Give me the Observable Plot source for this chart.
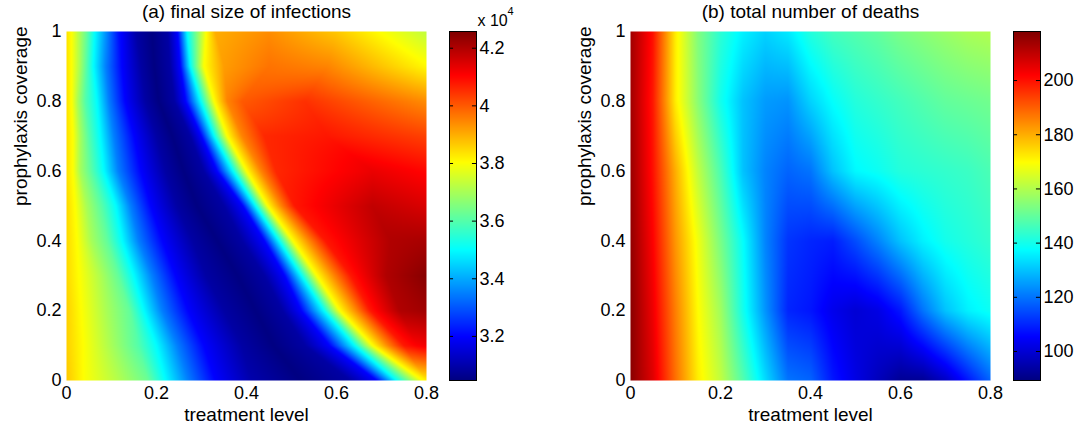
<!DOCTYPE html>
<html>
<head>
<meta charset="utf-8">
<script src="https://cdn.jsdelivr.net/npm/d3@7"></script>
<script src="https://cdn.jsdelivr.net/npm/@observablehq/plot@0.6"></script>
<style>
  body { margin: 0; background: #fff; }
  #chart { position: relative; width: 1085px; height: 428px; overflow: hidden; background: #fff; }
  #chart > svg { position: absolute; top: 0; }
</style>
</head>
<body>
<div id="chart"></div>
<script>
// ---- data ----
// (a) final size of infections (x 10^4). For each prophylaxis-coverage row,
// [treatment level, value] readings at the same sequence of colour features
// (left edge, 3.8, 3.7, 3.6, 3.5, 3.35, 3.2, dark, valley, dark, 3.2, 3.5, 3.8, 3.95, ridge, ridge, right edge).
const coverageA = [0, 0.1, 0.2, 0.3, 0.4, 0.5, 0.6, 0.7, 0.8, 0.9, 1];
const infectionReadings = [
  [[0,3.87],[0.04,3.8],[0.11,3.72],[0.18,3.63],[0.22,3.5],[0.27,3.35],[0.33,3.2],[0.41,3.1],[0.52,3.05],[0.63,3.09],[0.69,3.2],[0.733,3.5],[0.79,3.8],[0.8,3.82],[0.8,3.82],[0.8,3.82],[0.8,3.82]],
  [[0,3.86],[0.04,3.8],[0.1,3.7],[0.16,3.6],[0.2,3.5],[0.246,3.35],[0.305,3.2],[0.39,3.09],[0.46,3.05],[0.53,3.09],[0.585,3.2],[0.64,3.5],[0.68,3.8],[0.715,3.95],[0.75,4.08],[0.78,4.11],[0.8,4.12]],
  [[0,3.86],[0.035,3.8],[0.09,3.7],[0.14,3.62],[0.172,3.5],[0.212,3.35],[0.27,3.2],[0.35,3.09],[0.42,3.05],[0.48,3.09],[0.522,3.2],[0.572,3.5],[0.607,3.8],[0.645,3.95],[0.675,4.08],[0.74,4.2],[0.8,4.22]],
  [[0,3.85],[0.03,3.8],[0.075,3.71],[0.115,3.62],[0.15,3.5],[0.19,3.35],[0.242,3.2],[0.31,3.09],[0.38,3.05],[0.44,3.09],[0.485,3.2],[0.522,3.5],[0.556,3.8],[0.595,3.95],[0.632,4.08],[0.71,4.2],[0.8,4.25]],
  [[0,3.85],[0.025,3.8],[0.055,3.7],[0.09,3.62],[0.124,3.5],[0.16,3.35],[0.213,3.2],[0.28,3.09],[0.335,3.05],[0.39,3.09],[0.44,3.2],[0.472,3.5],[0.503,3.8],[0.54,3.95],[0.575,4.08],[0.72,4.2],[0.8,4.21]],
  [[0,3.85],[0.02,3.8],[0.045,3.7],[0.08,3.6],[0.11,3.5],[0.142,3.35],[0.187,3.2],[0.245,3.09],[0.29,3.05],[0.35,3.09],[0.392,3.2],[0.42,3.5],[0.447,3.8],[0.477,3.95],[0.507,4.08],[0.68,4.18],[0.8,4.15]],
  [[0,3.84],[0.015,3.8],[0.03,3.7],[0.057,3.6],[0.083,3.5],[0.115,3.35],[0.165,3.2],[0.22,3.09],[0.26,3.05],[0.305,3.09],[0.335,3.2],[0.37,3.5],[0.4,3.8],[0.432,3.95],[0.465,4.06],[0.68,4.13],[0.8,4.1]],
  [[0,3.84],[0.015,3.8],[0.03,3.7],[0.05,3.6],[0.075,3.5],[0.105,3.35],[0.15,3.2],[0.2,3.09],[0.235,3.05],[0.275,3.09],[0.3,3.2],[0.328,3.5],[0.357,3.8],[0.39,3.95],[0.44,4.06],[0.58,4.08],[0.8,4.03]],
  [[0,3.84],[0.012,3.8],[0.025,3.7],[0.042,3.6],[0.068,3.5],[0.094,3.35],[0.13,3.2],[0.175,3.09],[0.205,3.05],[0.24,3.09],[0.265,3.2],[0.298,3.5],[0.328,3.8],[0.357,3.95],[0.39,4.0],[0.53,4.05],[0.8,3.94]],
  [[0,3.84],[0.012,3.8],[0.03,3.7],[0.045,3.6],[0.06,3.5],[0.087,3.35],[0.123,3.2],[0.165,3.09],[0.195,3.05],[0.23,3.09],[0.253,3.2],[0.275,3.5],[0.305,3.8],[0.35,3.92],[0.45,3.97],[0.58,3.95],[0.8,3.81]],
  [[0,3.84],[0.012,3.8],[0.03,3.7],[0.045,3.62],[0.063,3.5],[0.082,3.4],[0.115,3.22],[0.155,3.09],[0.19,3.05],[0.225,3.09],[0.247,3.2],[0.268,3.5],[0.31,3.8],[0.33,3.9],[0.45,3.94],[0.6,3.87],[0.8,3.73]]
];

// (b) total number of deaths, on a treatment x coverage grid
const treatment = [0, 0.05, 0.1, 0.15, 0.2, 0.25, 0.3, 0.35, 0.4, 0.45, 0.5, 0.55, 0.6, 0.65, 0.7, 0.75, 0.8];
const coverageB = [0, 0.2, 0.4, 0.6, 0.8, 1];
const deaths = [
  [217,206,188,172,162,148,133,120,118,108,102, 97, 92, 92, 98,108,118],
  [217,204,186,170,158,140,124,110,108,103,100,102,108,120,130,136,139],
  [216,202,183,168,153,138,122,112,110,109,115,122,130,136,140,142,144],
  [215,200,180,162,147,130,122,118,120,130,137,139,142,143,144,145,147],
  [214,199,172,155,140,130,125,124,132,138,142,144,146,148,150,151,152],
  [214,200,172,154,143,136,132,135,142,146,148,150,153,155,157,159,160]
];

const xTicks = [0, 0.2, 0.4, 0.6, 0.8];
const yTicks = [0, 0.2, 0.4, 0.6, 0.8, 1];
const infectionTicks = [3.2, 3.4, 3.6, 3.8, 4, 4.2];
const deathTicks = [100, 120, 140, 160, 180, 200];
const infectionRange = [3.047, 4.258];
const deathRange = [89.3, 218.1];

const titles = ["(a) final size of infections", "(b) total number of deaths"];
const xLabel = "treatment level";
const yLabel = "prophylaxis coverage";
const exponentBase = "x 10";
const exponent = "4";

// ---- styling ----
const FONT = '"Liberation Sans", Arial, Helvetica, sans-serif';
const jetColors = ["#000080", "#0000ff", "#00ffff", "#ffff00", "#ff0000", "#800000"];
const jetStops = [0, 0.125, 0.375, 0.625, 0.875, 1];

function jetScale([lo, hi]) {
  return {type: "linear", domain: jetStops.map(t => lo + t * (hi - lo)), range: jetColors, interpolate: "rgb", clamp: true};
}
const infectionCells = coverageA.flatMap((y, i) => infectionReadings[i].map(([x, v]) => ({x, y, v})));
const deathCells = coverageB.flatMap((y, i) => treatment.map((x, j) => ({x, y, v: deaths[i][j]})));

// Raster interpolator: samples come in rows that share the same sequence of
// features; between two rows each feature slides linearly, and along a row
// the value is linear between features.
function rowInterpolator(index, width, height, X, Y, V) {
  const rows = d3.groups(Array.from(index), i => Y[i])
    .map(([y, idx]) => ({y, idx: idx.slice().sort((a, b) => X[a] - X[b])}))
    .sort((a, b) => a.y - b.y);
  const K = rows[0].idx.length;
  const out = new Float64Array(width * height);
  const xs = new Float64Array(K), vs = new Float64Array(K);
  for (let r = 0; r < height; r++) {
    const py = r + 0.5;
    let g = 0;
    while (g < rows.length - 2 && rows[g + 1].y < py) g++;
    const A = rows[g], B = rows[g + 1];
    const f = Math.max(0, Math.min(1, (py - A.y) / (B.y - A.y)));
    for (let k = 0; k < K; k++) {
      const a = A.idx[k], b = B.idx[k];
      xs[k] = X[a] + f * (X[b] - X[a]);
      vs[k] = V[a] + f * (V[b] - V[a]);
    }
    let k = 0;
    for (let c = 0; c < width; c++) {
      const px = c + 0.5;
      while (k < K - 2 && xs[k + 1] <= px) k++;
      let v;
      if (px <= xs[0]) v = vs[0];
      else if (px >= xs[K - 1]) v = vs[K - 1];
      else {
        const dx = xs[k + 1] - xs[k];
        v = dx > 0 ? vs[k] + (px - xs[k]) / dx * (vs[k + 1] - vs[k]) : vs[k + 1];
      }
      out[r * width + c] = v;
    }
  }
  return out;
}

const baseStyle = {fontFamily: FONT, fontSize: "18px", color: "black", background: "transparent", overflow: "visible"};

function heatPanel({cells, range, title, left, width, marginLeft}) {
  const svg = Plot.plot({
    width, height: 428,
    marginLeft, marginRight: width - marginLeft - 360, marginTop: 31, marginBottom: 48,
    style: baseStyle,
    x: {domain: [0, 0.8]},
    y: {domain: [0, 1]},
    color: jetScale(range),
    marks: [
      Plot.raster(cells, {x: "x", y: "y", fill: "v", interpolate: rowInterpolator}),
      Plot.axisX({ticks: xTicks, tickSize: 0, tickPadding: 6, tickFormat: d => String(d), label: null}),
      Plot.axisY({ticks: yTicks, tickSize: 0, tickPadding: 5, tickFormat: d => String(d), label: null}),
      Plot.text([title], {frameAnchor: "top", dy: -14, lineAnchor: "bottom", fontSize: 19}),
      Plot.text([xLabel], {frameAnchor: "bottom", dy: 40, lineAnchor: "bottom", fontSize: 19}),
      Plot.text([yLabel], {frameAnchor: "left", dx: -46, rotate: -90, lineAnchor: "middle", fontSize: 19})
    ]
  });
  svg.style.left = left + "px";
  return svg;
}

function colorBar({range, ticks, left, width, marginLeft, withExponent}) {
  const marks = [
    Plot.raster({fill: (x, y) => y, x1: 0, x2: 1, y1: range[0], y2: range[1]}),
    Plot.ruleY(ticks, {x1: 0, x2: 0.15, stroke: "black", strokeWidth: 1}),
    Plot.ruleY(ticks, {x1: 0.85, x2: 1, stroke: "black", strokeWidth: 1}),
    Plot.frame({stroke: "black", strokeWidth: 1}),
    Plot.axisY({anchor: "right", ticks, tickSize: 0, tickPadding: 3, tickFormat: d => String(d), label: null})
  ];
  if (withExponent) {
    marks.push(Plot.text([exponentBase], {frameAnchor: "top-right", dx: 1, dy: -6, textAnchor: "start", lineAnchor: "bottom", fontSize: 16}));
    marks.push(Plot.text([exponent], {frameAnchor: "top-right", dx: 31, dy: -17, textAnchor: "start", lineAnchor: "bottom", fontSize: 11}));
  }
  const svg = Plot.plot({
    width, height: 428,
    marginLeft, marginRight: width - marginLeft - 27, marginTop: 31, marginBottom: 48,
    style: baseStyle,
    x: {domain: [0, 1], axis: null},
    y: {domain: range, axis: null},
    color: jetScale(range),
    marks
  });
  svg.style.left = left + "px";
  return svg;
}

const chart = document.getElementById("chart");
chart.append(
  heatPanel({cells: infectionCells, range: infectionRange, title: titles[0], left: 0, width: 440, marginLeft: 66}),
  colorBar({range: infectionRange, ticks: infectionTicks, left: 440, width: 100, marginLeft: 9, withExponent: true}),
  heatPanel({cells: deathCells, range: deathRange, title: titles[1], left: 545, width: 460, marginLeft: 85}),
  colorBar({range: deathRange, ticks: deathTicks, left: 1005, width: 80, marginLeft: 8, withExponent: false})
);
</script>
</body>
</html>
